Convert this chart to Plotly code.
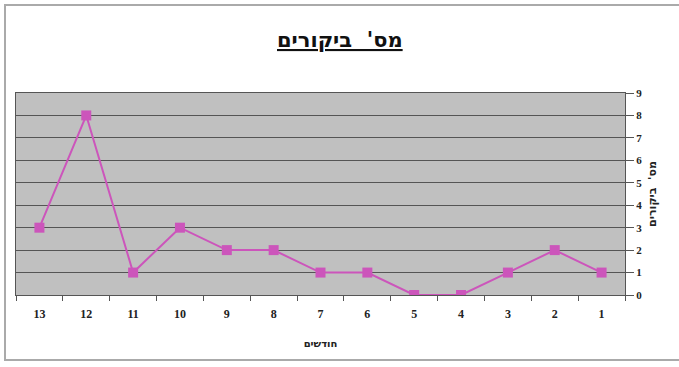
import plotly.graph_objects as go

months = ["13", "12", "11", "10", "9", "8", "7", "6", "5", "4", "3", "2", "1"]
visits = [3, 8, 1, 3, 2, 2, 1, 1, 0, 0, 1, 2, 1]
y_ticks = [0, 1, 2, 3, 4, 5, 6, 7, 8, 9]

W, H = 679, 367
L, R, T, B = 16, 54, 93, 72
pw, ph = W - L - R, H - T - B

def px(x):
    return (x - L) / pw

def py(y):
    return (H - B - y) / ph

fig = go.Figure()
fig.add_trace(go.Scatter(
    x=months, y=visits, mode="lines+markers",
    line=dict(color="#CC55BB", width=2),
    marker=dict(symbol="square", size=10, color="#CC55BB"),
    showlegend=False,
))

fig.update_layout(
    width=W, height=H,
    margin=dict(l=L, r=R, t=T, b=B),
    paper_bgcolor="white",
    plot_bgcolor="#C0C0C0",
    xaxis=dict(type="category", categoryorder="array", categoryarray=months,
               range=[-0.5, len(months) - 0.5],
               tickson="boundaries", ticks="outside", ticklen=5, tickcolor="#555555",
               ticklabelstandoff=8,
               showgrid=False, showline=True, linecolor="#555555", linewidth=1,
               tickfont=dict(family="Liberation Serif", size=12, color="#222222", weight="bold"),
               title=dict(text="<b>חודשים</b>", standoff=19,
                          font=dict(family="DejaVu Sans", size=10, color="#222222")),
               zeroline=False, mirror=True),
    yaxis=dict(side="right", range=[0, 9], tickvals=y_ticks, ticks="outside", ticklen=8,
               tickcolor="#555555", showgrid=True, gridcolor="#555555", gridwidth=1,
               showline=True, linecolor="#555555", linewidth=1, mirror=True,
               tickfont=dict(family="Liberation Serif", size=11, color="#222222", weight="bold"),
               title=dict(text="<b>מס'  ביקורים</b>", standoff=7,
                          font=dict(family="DejaVu Sans", size=11, color="#222222")),
               zeroline=False),
)

fig.add_annotation(text="<u><b>מס'  ביקורים</b></u>", xref="paper", yref="paper",
                   x=px(340), y=py(40), xanchor="center", yanchor="middle",
                   showarrow=False,
                   font=dict(family="DejaVu Sans", size=21, color="#111111"))

# outer chart frame
fig.add_shape(type="rect", xref="paper", yref="paper",
              x0=px(5), x1=px(690), y0=py(360), y1=py(5),
              line=dict(color="#AAAAAA", width=2), layer="below")

fig.write_html("out.html")
